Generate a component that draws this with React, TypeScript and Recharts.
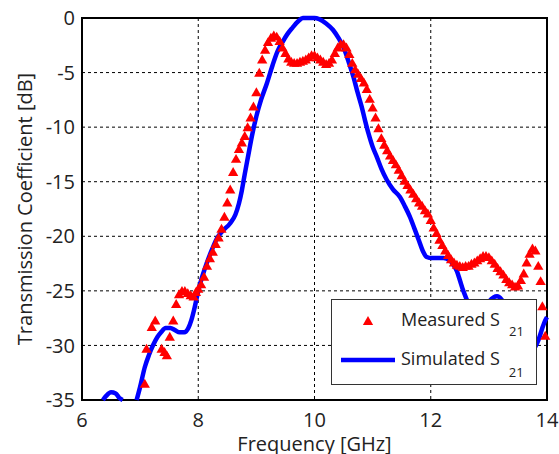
import React from 'react';
import {
  ComposedChart,
  Line,
  Scatter,
  XAxis,
  YAxis,
  ZAxis,
  CartesianGrid,
  ReferenceArea,
  Legend,
  Label,
  Symbols,
} from 'recharts';

// ---- Data ----
const xTicks = [6, 8, 10, 12, 14];
const yTicks = [0, -5, -10, -15, -20, -25, -30, -35];

const measuredFreq = [
  7.08, 7.11, 7.2, 7.26, 7.37, 7.42, 7.46, 7.51, 7.57, 7.62, 7.67, 7.72, 7.77, 7.82, 7.87, 7.92, 7.96,
  8.0, 8.05, 8.1, 8.15, 8.2, 8.25, 8.3, 8.35, 8.4, 8.45, 8.5, 8.55, 8.6, 8.65, 8.7, 8.75, 8.8, 8.85, 8.9, 8.95,
  9.0, 9.05, 9.1, 9.15, 9.2, 9.25, 9.3, 9.35, 9.4, 9.45, 9.5, 9.55, 9.6, 9.65, 9.7, 9.75, 9.8, 9.85, 9.9, 9.95,
  10.0, 10.05, 10.1, 10.15, 10.2, 10.25, 10.3, 10.35, 10.4, 10.45, 10.5, 10.55, 10.6, 10.65, 10.7, 10.75, 10.8, 10.85, 10.9, 10.95,
  11.0, 11.05, 11.1, 11.15, 11.2, 11.25, 11.3, 11.35, 11.4, 11.45, 11.5, 11.55, 11.6, 11.65, 11.7, 11.75, 11.8, 11.85, 11.9, 11.95,
  12.0, 12.05, 12.1, 12.15, 12.2, 12.25, 12.3, 12.35, 12.4, 12.45, 12.5, 12.55, 12.6, 12.65, 12.7, 12.75, 12.8, 12.85, 12.9, 12.95,
  13.0, 13.05, 13.1, 13.15, 13.2, 13.25, 13.3, 13.35, 13.4, 13.45, 13.5, 13.55, 13.6, 13.65, 13.7, 13.75, 13.8, 13.85, 13.89, 13.92, 13.97,
];
const measuredDb = [
  -33.6, -30.4, -28.4, -27.8, -30.4, -30.7, -31.0, -29.3, -27.8, -26.3, -25.4, -25.1, -25.1, -25.3, -25.5, -25.6, -25.2,
  -24.9, -24.5, -23.8, -22.8, -22.1, -21.5, -20.8, -20.2, -19.4, -18.3, -17.0, -15.8, -14.2, -13.0, -12.1, -11.5, -10.9, -10.1, -9.2, -8.2,
  -6.9, -5.1, -3.9, -3.0, -2.3, -1.9, -1.7, -1.8, -2.2, -2.8, -3.3, -3.8, -4.1, -4.2, -4.2, -4.1, -4.0, -3.9, -3.7, -3.5,
  -3.5, -3.7, -3.9, -4.1, -4.3, -4.2, -3.9, -3.3, -2.8, -2.5, -2.5, -2.8, -3.4, -4.2, -4.8, -5.2, -5.6, -6.0, -6.6, -7.5,
  -8.3, -9.2, -10.2, -11.1, -11.7, -12.2, -12.7, -13.1, -13.5, -14.0, -14.5, -15.0, -15.4, -15.8, -16.2, -16.6, -17.0, -17.3, -17.7, -18.0,
  -18.6, -19.3, -19.8, -20.4, -20.9, -21.4, -21.8, -22.2, -22.5, -22.7, -22.8, -22.9, -22.8, -22.8, -22.6, -22.5, -22.3, -22.1, -21.9, -21.9,
  -22.0, -22.3, -22.6, -23.0, -23.3, -23.6, -24.0, -24.3, -24.5, -24.7, -24.6, -24.1, -23.5, -22.5, -21.7, -21.2, -21.4, -22.8, -24.2, -26.5, -29.2,
];

const simulatedFreq = [
  6.36, 6.42, 6.5, 6.58, 6.64, 6.7, 6.82, 6.94, 7.0, 7.08, 7.15, 7.23, 7.3, 7.36, 7.44, 7.52, 7.6, 7.68, 7.76, 7.83, 7.88, 7.93, 7.98,
  8.03, 8.08, 8.15, 8.23, 8.32, 8.42, 8.55, 8.64, 8.7, 8.75, 8.8, 8.86, 8.92, 9.0, 9.08, 9.18, 9.28, 9.36, 9.45, 9.53, 9.62, 9.72, 9.8, 9.9,
  10.0, 10.08, 10.2, 10.32, 10.42, 10.5, 10.58, 10.67, 10.74, 10.81, 10.87, 10.93, 11.0, 11.07, 11.15, 11.24, 11.35, 11.47, 11.55, 11.64, 11.72, 11.79, 11.86, 11.93,
  12.02, 12.12, 12.22, 12.32, 12.39, 12.45, 12.5, 12.56, 12.62, 12.7, 12.8, 12.9, 13.0, 13.08, 13.14, 13.22, 13.35, 13.5, 13.62, 13.72, 13.8, 13.86, 13.92, 13.97, 14.0,
];
const simulatedDb: (number | null)[] = [
  -35.0, -34.6, -34.3, -34.4, -34.8, -35.0, null, -35.0, -33.8, -32.0, -30.9, -29.9, -29.2, -28.8, -28.4, -28.4, -28.6, -28.8, -28.8, -28.4, -27.7, -26.7, -25.5,
  -24.4, -23.5, -22.4, -21.3, -20.2, -19.5, -18.8, -18.0, -17.0, -15.8, -14.3, -12.6, -10.9, -9.0, -7.5, -6.0, -4.3, -3.1, -2.2, -1.5, -0.9, -0.3, 0, 0,
  0, -0.1, -0.5, -1.1, -1.9, -2.7, -3.9, -5.4, -6.8, -8.1, -9.4, -10.6, -11.8, -12.7, -13.8, -14.8, -15.7, -16.4, -17.2, -18.2, -19.3, -20.3, -21.3, -21.9,
  -22.0, -22.0, -22.0, -22.2, -22.6, -23.2, -24.0, -25.0, -25.8, -26.8, -27.2, -26.8, -26.0, -25.6, -25.5, -25.8, -27.2, -29.0, -30.2, -30.5, -30.1, -29.4, -28.4, -27.7, -27.4,
];

const measuredData = measuredFreq.map((f, i) => ({ f, db: measuredDb[i] }));
const simulatedData = simulatedFreq.map((f, i) => ({ f, db: simulatedDb[i] }));

const FONT = '"Open Sans", sans-serif';
const TEXT = '#222';

const LegendBox = () => (
  <div
    style={{
      width: 206,
      height: 86,
      boxSizing: 'border-box',
      border: '1.5px solid #333',
      background: '#fff',
    }}
  >
    <svg width={203} height={83} style={{ display: 'block' }}>
      <Symbols cx={36} cy={22} type="triangle" size={46} fill="#ff0000" />
      <text x={69} y={26} fontSize={18} fill={TEXT} fontFamily={FONT}>
        Measured S
        <tspan dx={9} dy={10} fontSize={13}>21</tspan>
      </text>
      <line x1={9} x2={63} y1={60} y2={60} stroke="#0000ff" strokeWidth={4.5} />
      <text x={69} y={65} fontSize={18} fill={TEXT} fontFamily={FONT}>
        Simulated S
        <tspan dx={9} dy={12} fontSize={13}>21</tspan>
      </text>
    </svg>
  </div>
);

const YLabel = (props: any) => {
  const vb = props.viewBox || {};
  const cx = vb.x + 24;
  const cy = vb.y + vb.height / 2;
  return (
    <text
      x={cx}
      y={cy}
      transform={`rotate(-90, ${cx}, ${cy})`}
      textAnchor="middle"
      dominantBaseline="central"
      fontSize={20}
      fill={TEXT}
      fontFamily={FONT}
    >
      Transmission Coefficient [dB]
    </text>
  );
};

export default function App() {
  return (
    <div style={{ position: 'absolute', left: 0, top: 0, width: 559, height: 454, background: '#fff', fontFamily: FONT }}>
      <ComposedChart width={559} height={454} margin={{ top: 18, right: 12, bottom: 0, left: 0 }}>
        <CartesianGrid stroke="#000" strokeDasharray="3 3" strokeWidth={1} />
        <XAxis
          type="number"
          dataKey="f"
          domain={[6, 14]}
          ticks={xTicks}
          height={54}
          tickSize={0}
          tickMargin={13}
          axisLine={false}
          tick={{ fontSize: 20, fill: TEXT, fontFamily: FONT }}
          allowDecimals={false}
        >
          <Label value="Frequency [GHz]" position="insideBottom" offset={3} fontSize={20} fill={TEXT} fontFamily={FONT} />
        </XAxis>
        <YAxis
          type="number"
          dataKey="db"
          domain={[-35, 0]}
          ticks={yTicks}
          width={82}
          tickSize={0}
          tickMargin={7}
          axisLine={false}
          tick={{ fontSize: 20, fill: TEXT, fontFamily: FONT }}
          label={<YLabel />}
        />
        <ZAxis type="number" range={[46, 46]} />
        <ReferenceArea x1={6} x2={14} y1={-35} y2={0} fill="none" stroke="#000" strokeWidth={2} ifOverflow="visible" />
        <Line
          data={simulatedData}
          dataKey="db"
          type="monotone"
          stroke="#0000ff"
          strokeWidth={4.5}
          dot={false}
          activeDot={false}
          connectNulls={false}
          isAnimationActive={false}
          name="Simulated"
        />
        <Scatter
          data={measuredData}
          dataKey="db"
          shape="triangle"
          fill="#ff0000"
          isAnimationActive={false}
          name="Measured"
        />
        <Legend
          layout="vertical"
          align="center"
          verticalAlign="middle"
          content={() => <LegendBox />}
          wrapperStyle={{ position: 'absolute', left: 331, top: 299, width: 206, height: 86, margin: 0, padding: 0 }}
        />
      </ComposedChart>
    </div>
  );
}
